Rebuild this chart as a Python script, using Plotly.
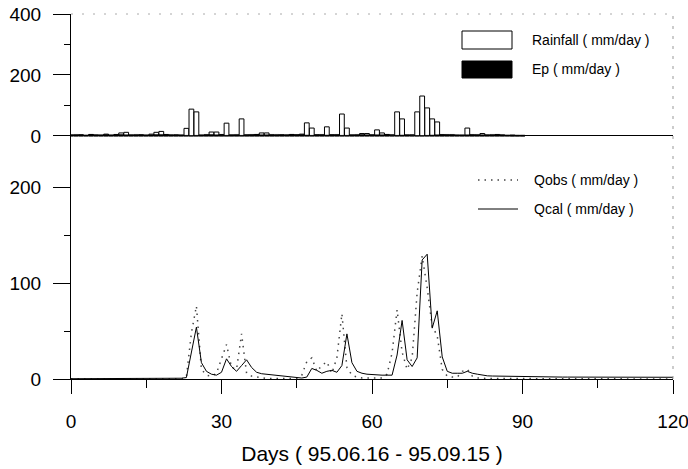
import plotly.graph_objects as go

# ---------------- data ----------------
rain_days = list(range(0, 91))
rainfall = [3, 2, 4, 2, 5, 3, 2, 6, 3, 5, 10, 12, 3, 2, 4, 3, 6, 12, 15, 5,
            3, 4, 2, 25, 88, 79, 2, 3, 13, 13, 5, 42, 3, 2, 56, 4, 3, 5, 10, 10,
            3, 2, 4, 3, 5, 4, 6, 43, 26, 4, 3, 30, 4, 3, 72, 26, 3, 2, 8, 8,
            4, 20, 10, 5, 4, 79, 56, 3, 4, 79, 131, 92, 56, 46, 4, 3, 3, 2, 3, 26,
            3, 2, 8, 3, 2, 5, 3, 2, 1, 1, 1]
ep = [4, 5, 4, 3, 5, 4, 4, 5, 3, 4, 5, 4, 4, 5, 4, 3, 4, 5, 5, 4,
      4, 3, 4, 2, 1, 2, 4, 5, 5, 4, 3, 2, 4, 5, 2, 3, 5, 5, 4, 4,
      5, 5, 4, 4, 5, 4, 5, 3, 2, 4, 5, 3, 4, 5, 2, 2, 4, 5, 5, 4,
      3, 4, 4, 5, 2, 2, 3, 4, 2, 1, 1, 2, 3, 4, 5, 5, 5, 4, 3, 4,
      5, 5, 4, 4, 5, 4, 4, 3, 4, 3, 3]

q_days = list(range(0, 121))
qobs = [0, 0, 0, 0, 0, 0, 0, 0, 0, 0, 0, 0, 0, 0, 0, 0, 0, 0, 0, 0,
        0, 0, 0, 2, 48, 76, 10, 4, 3, 6, 20, 36, 12, 10, 47, 6, 3, 2, 1, 0.5,
        0.5, 0.5, 0.5, 0.5, 0.5, 0.5, 4, 18, 22, 8, 14, 18, 6, 22, 68, 12, 4, 2, 1, 1,
        1, 1, 1, 5, 27, 72, 28, 10, 22, 90, 128, 95, 55, 45, 10, 3, 2, 2, 8, 10,
        3, 1, 0.5, 0.5, 0.5, 0.5, 0.5, 0.5, 0.5, 0.5, 0, 0, 0, 0, 0, 0, 0, 0, 0, 0,
        0, 0, 0, 0, 0, 0, 0, 0, 0, 0, 0, 0, 0, 0, 0, 0, 0, 0, 0, 0,
        0]
qcal = [0.3, 0.3, 0.3, 0.3, 0.3, 0.3, 0.3, 0.3, 0.3, 0.3, 0.8, 0.8, 0.8, 0.8, 0.8, 0.8, 0.8, 0.8, 0.8, 0.8,
        0.8, 0.8, 0.8, 1.5, 28, 54, 17, 8, 5, 4, 7, 21, 13, 8, 14, 20, 12, 7, 5.5, 5,
        4, 3.5, 3, 2.5, 2, 1.5, 1, 2, 11, 9, 6, 8, 9, 7, 14, 47, 17, 8, 6, 5,
        4.5, 4, 4, 4, 4, 25, 61, 20, 13, 22, 124, 130, 53, 71, 23, 8, 6, 6, 6, 8,
        6, 5, 4, 3.3, 3.1, 3, 2.8, 2.6, 2.5, 2.3, 2.2, 2, 2, 2, 2, 2, 2, 2, 2, 2,
        2, 1.8, 1.8, 1.8, 1.8, 1.8, 1.8, 1.8, 1.8, 1.8, 1.8, 1.8, 1.8, 1.8, 1.8, 1.8, 1.8, 1.8, 1.8, 1.8,
        1.8]

x_ticks = [0, 30, 60, 90, 120]
top_ticks = [0, 200, 400]
bottom_ticks = [0, 100, 200]

FONT = "Arial, Liberation Sans, sans-serif"

# ---------------- layout helpers (pixel -> paper) ----------------
L, R, T, B = 71, 673, 14, 379
def xp(px):
    return (px - L) / (R - L)
def yp(py):
    return (B - py) / (B - T)

split = yp(168)

fig = go.Figure()
fig.add_trace(go.Bar(x=rain_days, y=rainfall, xaxis="x", yaxis="y2",
                     marker=dict(color="white", line=dict(color="black", width=1)),
                     width=0.95, name="Rainfall ( mm/day )", showlegend=False))
fig.add_trace(go.Bar(x=rain_days, y=ep, xaxis="x", yaxis="y2",
                     marker=dict(color="black", line=dict(color="black", width=0.5)),
                     width=0.95, name="Ep ( mm/day )", showlegend=False))
fig.add_trace(go.Scatter(x=q_days, y=qobs, mode="lines", xaxis="x", yaxis="y",
                         line=dict(color="#444444", width=1.5, dash="1.5px,5px"),
                         name="Qobs ( mm/day )", showlegend=False))
fig.add_trace(go.Scatter(x=q_days, y=qcal, mode="lines", xaxis="x", yaxis="y",
                         line=dict(color="black", width=1),
                         name="Qcal ( mm/day )", showlegend=False))

axis_common = dict(showgrid=False, zeroline=False, showline=True, linecolor="black",
                   linewidth=1, ticks="outside", tickcolor="black", tickwidth=1,
                   automargin=False, ticklabeloverflow="allow",
                   tickfont=dict(family=FONT, size=19, color="black"))

fig.update_layout(
    width=688, height=469,
    margin=dict(l=L, r=688 - R, t=T, b=469 - B, autoexpand=False),
    paper_bgcolor="white", plot_bgcolor="white",
    barmode="overlay", bargap=0.05,
    font=dict(family=FONT, color="black"),
    xaxis=dict(axis_common, range=[0, 120], tickvals=x_ticks, ticklen=14,
               anchor="y", ticklabelstandoff=11,
               tickfont=dict(family=FONT, size=19, color="black"),
               minor=dict(tickmode="array", tickvals=[15, 45, 75, 105], ticks="outside",
                          ticklen=8, tickcolor="black"),
               title=dict(text="Days ( 95.06.16 - 95.09.15 )",
                          font=dict(family=FONT, size=21, color="black"), standoff=15)),
    yaxis=dict(axis_common, domain=[0, split], range=[0, 219.8], tickvals=bottom_ticks,
               ticklen=17, anchor="x", ticklabelstandoff=8,
               minor=dict(tickmode="array", tickvals=[50, 150], ticks="outside",
                          ticklen=6, tickcolor="black")),
    yaxis2=dict(axis_common, domain=[split, 1], range=[-105, 400], tickvals=top_ticks,
                ticklen=17, anchor="x", ticklabelstandoff=8,
                zeroline=True, zerolinecolor="black", zerolinewidth=1,
                minor=dict(tickmode="array", tickvals=[100, 300], ticks="outside",
                           ticklen=6, tickcolor="black")),
)

shapes = [
    # faint scanned frame (top and right)
    dict(type="line", xref="paper", yref="paper", x0=0, x1=1, y0=1, y1=1,
         line=dict(color="#aaaaaa", width=1, dash="2px,9px")),
    dict(type="line", xref="paper", yref="paper", x0=1, x1=1, y0=0, y1=1,
         line=dict(color="#999999", width=1, dash="3px,7px")),
    # legend keys
    dict(type="rect", xref="paper", yref="paper", x0=xp(462), x1=xp(512), y0=yp(49), y1=yp(31),
         line=dict(color="black", width=1), fillcolor="white"),
    dict(type="rect", xref="paper", yref="paper", x0=xp(462), x1=xp(512), y0=yp(78), y1=yp(61),
         line=dict(color="black", width=1), fillcolor="black"),
    dict(type="line", xref="paper", yref="paper", x0=xp(478), x1=xp(518), y0=yp(180), y1=yp(180),
         line=dict(color="#444444", width=1.5, dash="1.5px,5px")),
    dict(type="line", xref="paper", yref="paper", x0=xp(478), x1=xp(518), y0=yp(209), y1=yp(209),
         line=dict(color="black", width=1)),
]
fig.update_layout(shapes=shapes)

legend_texts = [("Rainfall ( mm/day )", 530, 40), ("Ep ( mm/day )", 530, 69),
                ("Qobs ( mm/day )", 532, 180), ("Qcal ( mm/day )", 532, 209)]
for txt, px, py in legend_texts:
    fig.add_annotation(text=txt, xref="paper", yref="paper", x=xp(px), y=yp(py),
                       xanchor="left", yanchor="middle", showarrow=False,
                       font=dict(family=FONT, size=14, color="black"))

fig.write_html("out.html", config={"displayModeBar": False},
               post_script="document.body.style.margin='0';document.body.style.overflow='hidden';")
